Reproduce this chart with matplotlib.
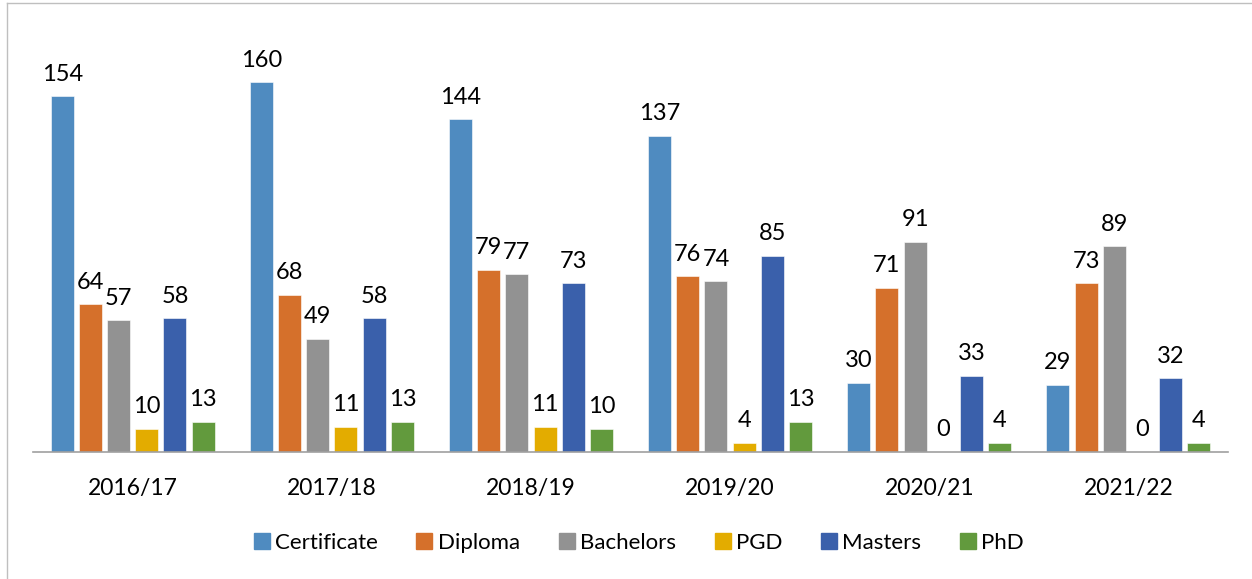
import numpy as np
import matplotlib
matplotlib.use('Agg')
import matplotlib.pyplot as plt
from matplotlib.lines import Line2D

plt.rcParams['font.family'] = ['Lato', 'DejaVu Sans']

# -------------------------
# DATA
# -------------------------
years = ["2016/17", "2017/18", "2018/19", "2019/20", "2020/21", "2021/22"]
series = ["Certificate", "Diploma", "Bachelors", "PGD", "Masters", "PhD"]
certificate = [154, 160, 144, 137, 30, 29]
diploma = [64, 68, 79, 76, 71, 73]
bachelors = [57, 49, 77, 74, 91, 89]
pgd = [10, 11, 11, 4, 0, 0]
masters = [58, 58, 73, 85, 33, 32]
phd = [13, 13, 10, 13, 4, 4]
values = [certificate, diploma, bachelors, pgd, masters, phd]

colors = ["#4F8BC0", "#D5702B", "#929292", "#E3AC00", "#3A60AB", "#629A3D"]

# -------------------------
# PLOT
# -------------------------
fig = plt.figure(figsize=(12.52, 5.79), dpi=100)
ax = fig.add_axes([0.0264, 0.2193, 0.9544, 0.746])

x = np.arange(len(years))
step = 0.1417
width = 0.1156
for i, (name, vals) in enumerate(zip(series, values)):
    pos = x + (i - 2.5) * step
    ax.bar(pos, vals, width, color=colors[i], edgecolor="white",
           linewidth=0.4, label=name)
    for xp, v in zip(pos, vals):
        ax.text(xp, v + 5, str(v), ha="center", va="bottom", fontsize=17,
                color="black")

ax.set_xlim(-0.5, 5.5)
ax.set_ylim(0, 187)
ax.set_xticks(x)
ax.set_xticklabels(years, fontsize=16.5)
ax.tick_params(axis="x", length=0, pad=19)
ax.set_yticks([])
for s in ["top", "right", "left"]:
    ax.spines[s].set_visible(False)
ax.spines["bottom"].set_color("#A0A0A0")
ax.spines["bottom"].set_linewidth(1.2)

handles = [Line2D([0], [0], marker="s", linestyle="", markersize=11,
                  markerfacecolor=c, markeredgecolor=c) for c in colors]
fig.legend(handles, series, loc="center", bbox_to_anchor=(0.509, 0.062),
           ncol=6, frameon=False, fontsize=16, handletextpad=0.1,
           columnspacing=1.6, handlelength=1.0)

# thin border at left and top
fig.add_artist(Line2D([0.0056, 0.0056], [0, 0.995], transform=fig.transFigure,
                      color="#BFBFBF", linewidth=1))
fig.add_artist(Line2D([0.0056, 1], [0.995, 0.995], transform=fig.transFigure,
                      color="#BFBFBF", linewidth=1))

fig.savefig("out.png", dpi=100)
